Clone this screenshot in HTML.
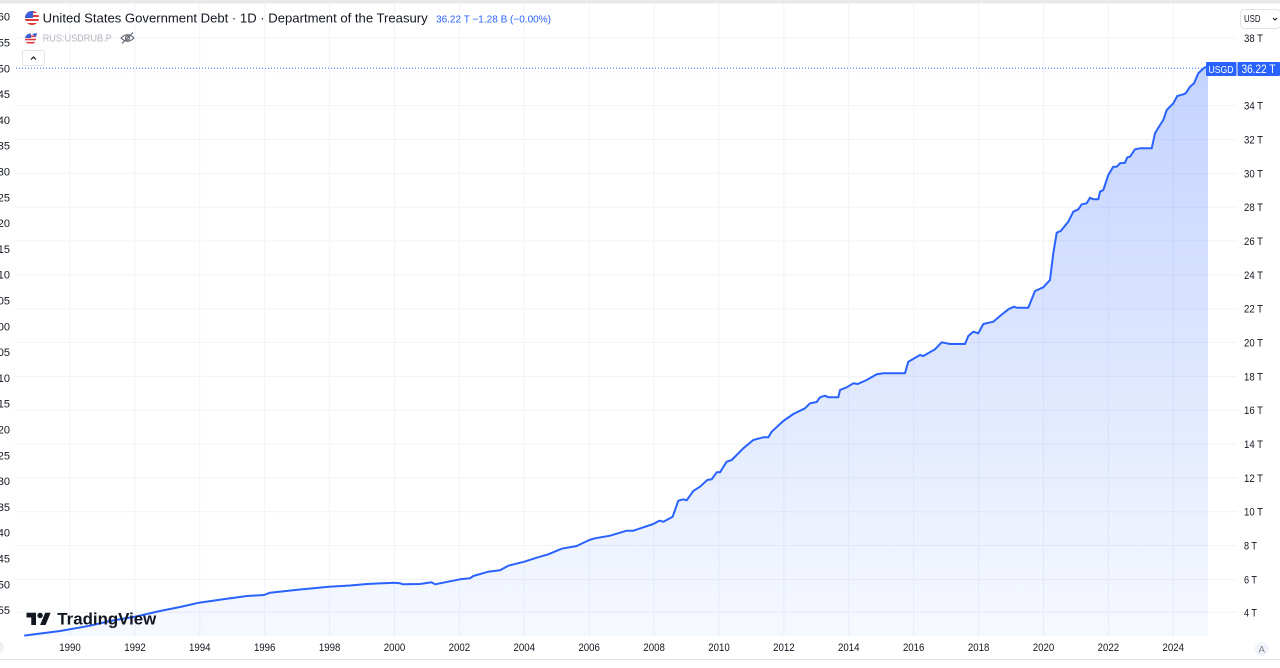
<!DOCTYPE html>
<html>
<head>
<meta charset="utf-8">
<style>
html,body{margin:0;padding:0;background:#fff;}
body{width:1280px;height:668px;overflow:hidden;}
svg{display:block;font-family:"Liberation Sans",Arial,sans-serif;}
</style>
</head>
<body>
<svg width="1280" height="668" viewBox="0 0 1280 668" xmlns="http://www.w3.org/2000/svg">
<defs>
<linearGradient id="fillg" x1="0" y1="67" x2="0" y2="636" gradientUnits="userSpaceOnUse">
<stop offset="0" stop-color="#2962ff" stop-opacity="0.28"/>
<stop offset="1" stop-color="#2962ff" stop-opacity="0.04"/>
</linearGradient>
<clipPath id="c1"><circle cx="32" cy="18" r="7"/></clipPath>
<clipPath id="c2"><circle cx="30.5" cy="39" r="5.5"/></clipPath>
</defs>
<rect x="0" y="0" width="1280" height="668" fill="#fff"/>
<rect x="0" y="0" width="1280" height="3.5" fill="#e8e9eb"/>

<!-- vertical grid -->
<g stroke="#f0f3fa" stroke-width="1">
<line x1="70" y1="4" x2="70" y2="636"/>
<line x1="135" y1="4" x2="135" y2="636"/>
<line x1="199.8" y1="4" x2="199.8" y2="636"/>
<line x1="264.7" y1="4" x2="264.7" y2="636"/>
<line x1="329.6" y1="4" x2="329.6" y2="636"/>
<line x1="394.5" y1="4" x2="394.5" y2="636"/>
<line x1="459.4" y1="4" x2="459.4" y2="636"/>
<line x1="524.3" y1="4" x2="524.3" y2="636"/>
<line x1="589.2" y1="4" x2="589.2" y2="636"/>
<line x1="654.1" y1="4" x2="654.1" y2="636"/>
<line x1="719" y1="4" x2="719" y2="636"/>
<line x1="783.9" y1="4" x2="783.9" y2="636"/>
<line x1="848.8" y1="4" x2="848.8" y2="636"/>
<line x1="913.7" y1="4" x2="913.7" y2="636"/>
<line x1="978.6" y1="4" x2="978.6" y2="636"/>
<line x1="1043.5" y1="4" x2="1043.5" y2="636"/>
<line x1="1108.4" y1="4" x2="1108.4" y2="636"/>
<line x1="1173.3" y1="4" x2="1173.3" y2="636"/>
</g>
<!-- horizontal grid -->
<g stroke="#f0f3fa" stroke-width="1">
<line x1="15" y1="38" x2="1237" y2="38"/>
<line x1="15" y1="71.8" x2="1237" y2="71.8"/>
<line x1="15" y1="105.6" x2="1237" y2="105.6"/>
<line x1="15" y1="139.5" x2="1237" y2="139.5"/>
<line x1="15" y1="173.4" x2="1237" y2="173.4"/>
<line x1="15" y1="207.2" x2="1237" y2="207.2"/>
<line x1="15" y1="241" x2="1237" y2="241"/>
<line x1="15" y1="274.9" x2="1237" y2="274.9"/>
<line x1="15" y1="308.7" x2="1237" y2="308.7"/>
<line x1="15" y1="342.5" x2="1237" y2="342.5"/>
<line x1="15" y1="376.4" x2="1237" y2="376.4"/>
<line x1="15" y1="410.2" x2="1237" y2="410.2"/>
<line x1="15" y1="444" x2="1237" y2="444"/>
<line x1="15" y1="477.9" x2="1237" y2="477.9"/>
<line x1="15" y1="511.7" x2="1237" y2="511.7"/>
<line x1="15" y1="545.5" x2="1237" y2="545.5"/>
<line x1="15" y1="579.4" x2="1237" y2="579.4"/>
<line x1="15" y1="612.3" x2="1237" y2="612.3"/>
</g>

<!-- area fill -->
<path fill="url(#fillg)" stroke="none" d="M25,636 L25,635.5 L60,631 L90,625.7 L110,621 L135,616.7 L160,611 L180,607 L199,602.7 L225,599 L247,596 L264,595 L270,592.7 L300,589.5 L329,586.7 L350,585.5 L367,584 L394,582.7 L400,583.3 L403,584.3 L420,584 L431.7,582.3 L435,584.3 L460,579.3 L470,578.3 L473.3,576 L488.3,571.7 L500,570.3 L508.3,565.7 L524.3,561.7 L536.7,557.7 L548.3,554.3 L561.7,548.7 L576.7,546 L589.3,540 L595,538.3 L610,535.7 L626.7,530.7 L633.3,530.7 L653.3,524 L659.3,520.7 L663.3,521.7 L672.7,516.7 L678.3,500.7 L683.3,499.3 L686.7,500.3 L693.3,491 L700,486.7 L707.3,480 L711.7,479.3 L716.7,472.3 L720,472.3 L726.7,461.7 L731.7,460 L743.3,448.3 L753.3,440 L763.3,437.3 L768.3,437.3 L771.7,431.7 L783.3,421 L793.3,414 L805,408.3 L810,403.3 L816.7,402 L820,397.3 L825,395.7 L828.3,397.3 L838.3,397.3 L840,390 L846.7,387.3 L853.3,383.3 L857.7,384 L866.7,380 L876.7,374.3 L883.3,373.3 L905,373.3 L908.3,361.7 L920,355 L923.3,356 L935,349.3 L941.7,342.3 L950,344 L965,344 L968.3,336 L973.3,331.7 L978.3,333.3 L983.3,324 L993.3,321.7 L1000,316 L1008.3,309.3 L1014,306.7 L1016.7,307.7 L1028.3,307.7 L1035,291 L1043.3,287.3 L1050,280 L1053.3,253.3 L1056.7,232.7 L1060.7,231 L1068.3,221.7 L1073.3,211.7 L1078.3,209.3 L1081.7,204.3 L1086.7,203.3 L1090,197.7 L1093.3,199.3 L1098.3,199.3 L1100,191.7 L1103.3,190 L1108.3,175 L1113.3,166.7 L1116.7,166.7 L1120,163.3 L1125,162.7 L1127.3,157.3 L1130,156.7 L1135,149.3 L1140,148.3 L1151.7,148.3 L1155,133.3 L1160,125 L1163.3,120 L1166.7,110 L1173.3,103.3 L1177.3,96 L1183.3,94.3 L1185.7,93.3 L1190,86.7 L1194,83.3 L1198.3,73.3 L1201.7,70 L1205,67.3 L1208,67.3 L1208,636 Z"/>

<!-- dotted price line -->
<line x1="16" y1="68.3" x2="1207" y2="68.3" stroke="#2962ff" stroke-width="1" stroke-dasharray="1,2" opacity="0.9"/>

<!-- series line -->
<polyline fill="none" stroke="#2962ff" stroke-width="2" stroke-linejoin="round" stroke-linecap="round" points="25,635.5 60,631 90,625.7 110,621 135,616.7 160,611 180,607 199,602.7 225,599 247,596 264,595 270,592.7 300,589.5 329,586.7 350,585.5 367,584 394,582.7 400,583.3 403,584.3 420,584 431.7,582.3 435,584.3 460,579.3 470,578.3 473.3,576 488.3,571.7 500,570.3 508.3,565.7 524.3,561.7 536.7,557.7 548.3,554.3 561.7,548.7 576.7,546 589.3,540 595,538.3 610,535.7 626.7,530.7 633.3,530.7 653.3,524 659.3,520.7 663.3,521.7 672.7,516.7 678.3,500.7 683.3,499.3 686.7,500.3 693.3,491 700,486.7 707.3,480 711.7,479.3 716.7,472.3 720,472.3 726.7,461.7 731.7,460 743.3,448.3 753.3,440 763.3,437.3 768.3,437.3 771.7,431.7 783.3,421 793.3,414 805,408.3 810,403.3 816.7,402 820,397.3 825,395.7 828.3,397.3 838.3,397.3 840,390 846.7,387.3 853.3,383.3 857.7,384 866.7,380 876.7,374.3 883.3,373.3 905,373.3 908.3,361.7 920,355 923.3,356 935,349.3 941.7,342.3 950,344 965,344 968.3,336 973.3,331.7 978.3,333.3 983.3,324 993.3,321.7 1000,316 1008.3,309.3 1014,306.7 1016.7,307.7 1028.3,307.7 1035,291 1043.3,287.3 1050,280 1053.3,253.3 1056.7,232.7 1060.7,231 1068.3,221.7 1073.3,211.7 1078.3,209.3 1081.7,204.3 1086.7,203.3 1090,197.7 1093.3,199.3 1098.3,199.3 1100,191.7 1103.3,190 1108.3,175 1113.3,166.7 1116.7,166.7 1120,163.3 1125,162.7 1127.3,157.3 1130,156.7 1135,149.3 1140,148.3 1151.7,148.3 1155,133.3 1160,125 1163.3,120 1166.7,110 1173.3,103.3 1177.3,96 1183.3,94.3 1185.7,93.3 1190,86.7 1194,83.3 1198.3,73.3 1201.7,70 1205,67.3 1207.5,67.3"/>

<!-- left cut-off scale labels -->
<g font-size="11" fill="#131722" text-anchor="end">
<text x="10" y="20.7">60</text>
<text x="10" y="46.5">55</text>
<text x="10" y="72.3">50</text>
<text x="10" y="98.1">45</text>
<text x="10" y="123.9">40</text>
<text x="10" y="149.7">35</text>
<text x="10" y="175.5">30</text>
<text x="10" y="201.3">25</text>
<text x="10" y="227.1">20</text>
<text x="10" y="252.9">15</text>
<text x="10" y="278.7">10</text>
<text x="10" y="304.5">05</text>
<text x="10" y="330.3">00</text>
<text x="10" y="356.1">05</text>
<text x="10" y="381.9">10</text>
<text x="10" y="407.7">15</text>
<text x="10" y="433.5">20</text>
<text x="10" y="459.3">25</text>
<text x="10" y="485.1">30</text>
<text x="10" y="510.9">35</text>
<text x="10" y="536.7">40</text>
<text x="10" y="562.5">45</text>
<text x="10" y="588.3">50</text>
<text x="10" y="614.1">55</text>
</g>

<!-- right scale labels -->
<g font-size="11" fill="#131722">
<text x="1244" y="42" textLength="19" lengthAdjust="spacingAndGlyphs">38 T</text>
<text x="1244" y="109.6" textLength="19" lengthAdjust="spacingAndGlyphs">34 T</text>
<text x="1244" y="143.5" textLength="19" lengthAdjust="spacingAndGlyphs">32 T</text>
<text x="1244" y="177.4" textLength="19" lengthAdjust="spacingAndGlyphs">30 T</text>
<text x="1244" y="211.2" textLength="19" lengthAdjust="spacingAndGlyphs">28 T</text>
<text x="1244" y="245" textLength="19" lengthAdjust="spacingAndGlyphs">26 T</text>
<text x="1244" y="278.9" textLength="19" lengthAdjust="spacingAndGlyphs">24 T</text>
<text x="1244" y="312.7" textLength="19" lengthAdjust="spacingAndGlyphs">22 T</text>
<text x="1244" y="346.5" textLength="19" lengthAdjust="spacingAndGlyphs">20 T</text>
<text x="1244" y="380.4" textLength="19" lengthAdjust="spacingAndGlyphs">18 T</text>
<text x="1244" y="414.2" textLength="19" lengthAdjust="spacingAndGlyphs">16 T</text>
<text x="1244" y="448" textLength="19" lengthAdjust="spacingAndGlyphs">14 T</text>
<text x="1244" y="481.9" textLength="19" lengthAdjust="spacingAndGlyphs">12 T</text>
<text x="1244" y="515.7" textLength="19" lengthAdjust="spacingAndGlyphs">10 T</text>
<text x="1244" y="549.5" textLength="13" lengthAdjust="spacingAndGlyphs">8 T</text>
<text x="1244" y="583.4" textLength="13" lengthAdjust="spacingAndGlyphs">6 T</text>
<text x="1244" y="616.3" textLength="13" lengthAdjust="spacingAndGlyphs">4 T</text>
</g>

<!-- price badges -->
<rect x="1206" y="62" width="30.5" height="14" fill="#2962ff" rx="1"/>
<rect x="1237.5" y="62" width="42.5" height="14" fill="#2962ff" rx="1"/>
<text x="1221" y="72.8" font-size="10.5" fill="#fff" text-anchor="middle" textLength="25" lengthAdjust="spacingAndGlyphs">USGD</text>
<text x="1258.5" y="73" font-size="11.5" fill="#fff" text-anchor="middle" textLength="34" lengthAdjust="spacingAndGlyphs">36.22 T</text>

<!-- USD button -->
<rect x="1240.5" y="9.5" width="40" height="19" rx="4" fill="#fff" stroke="#e0e3eb"/>
<text x="1244" y="22" font-size="10.5" fill="#131722" textLength="16.5" lengthAdjust="spacingAndGlyphs">USD</text>
<path d="M1273,18 l2,2 l2,-2" fill="none" stroke="#131722" stroke-width="1"/>

<!-- time axis labels -->
<g font-size="11" fill="#131722" text-anchor="middle">
<text x="70" y="651" textLength="21.5" lengthAdjust="spacingAndGlyphs">1990</text>
<text x="135" y="651" textLength="21.5" lengthAdjust="spacingAndGlyphs">1992</text>
<text x="199.8" y="651" textLength="21.5" lengthAdjust="spacingAndGlyphs">1994</text>
<text x="264.7" y="651" textLength="21.5" lengthAdjust="spacingAndGlyphs">1996</text>
<text x="329.6" y="651" textLength="21.5" lengthAdjust="spacingAndGlyphs">1998</text>
<text x="394.5" y="651" textLength="21.5" lengthAdjust="spacingAndGlyphs">2000</text>
<text x="459.4" y="651" textLength="21.5" lengthAdjust="spacingAndGlyphs">2002</text>
<text x="524.3" y="651" textLength="21.5" lengthAdjust="spacingAndGlyphs">2004</text>
<text x="589.2" y="651" textLength="21.5" lengthAdjust="spacingAndGlyphs">2006</text>
<text x="654.1" y="651" textLength="21.5" lengthAdjust="spacingAndGlyphs">2008</text>
<text x="719" y="651" textLength="21.5" lengthAdjust="spacingAndGlyphs">2010</text>
<text x="783.9" y="651" textLength="21.5" lengthAdjust="spacingAndGlyphs">2012</text>
<text x="848.8" y="651" textLength="21.5" lengthAdjust="spacingAndGlyphs">2014</text>
<text x="913.7" y="651" textLength="21.5" lengthAdjust="spacingAndGlyphs">2016</text>
<text x="978.6" y="651" textLength="21.5" lengthAdjust="spacingAndGlyphs">2018</text>
<text x="1043.5" y="651" textLength="21.5" lengthAdjust="spacingAndGlyphs">2020</text>
<text x="1108.4" y="651" textLength="21.5" lengthAdjust="spacingAndGlyphs">2022</text>
<text x="1173.3" y="651" textLength="21.5" lengthAdjust="spacingAndGlyphs">2024</text>
</g>

<!-- auto button -->
<circle cx="1261.7" cy="649" r="7" fill="#f0f3fa"/>
<text x="1261.7" y="652.5" font-size="9.5" fill="#787b86" text-anchor="middle">A</text>
<!-- bottom left partial circle -->
<circle cx="-2" cy="647" r="6" fill="#f0f1f3"/>

<!-- bottom separator -->
<line x1="0" y1="659.5" x2="1280" y2="659.5" stroke="#e0e3eb" stroke-width="1"/>

<!-- header: flag icon -->
<g clip-path="url(#c1)">
<rect x="25" y="11" width="14" height="14" fill="#fff"/>
<rect x="25" y="11" width="14" height="2" fill="#e0393e"/>
<rect x="25" y="15" width="14" height="2" fill="#e0393e"/>
<rect x="25" y="19" width="14" height="2" fill="#e0393e"/>
<rect x="25" y="23" width="14" height="2" fill="#e0393e"/>
<rect x="25" y="11" width="8" height="7" fill="#3c5ed6"/>
</g>
<text x="42.7" y="22.7" font-size="13" fill="#131722" textLength="385" lengthAdjust="spacingAndGlyphs">United States Government Debt · 1D · Department of the Treasury</text>
<text x="436" y="22.5" font-size="10.5" fill="#2962ff" textLength="115" lengthAdjust="spacingAndGlyphs">36.22 T  −1.28 B (−0.00%)</text>

<!-- second row -->
<g clip-path="url(#c2)">
<rect x="25" y="33" width="12" height="12" fill="#fff"/>
<rect x="25" y="35.5" width="12" height="1.6" fill="#e0393e"/>
<rect x="25" y="38.7" width="12" height="1.6" fill="#e0393e"/>
<rect x="25" y="41.9" width="12" height="1.6" fill="#e0393e"/>
<rect x="25" y="33" width="6" height="5" fill="#3c5ed6"/>
</g>
<path d="M32,34 l5,-1 l-1,4 z" fill="#3c5ed6"/>
<text x="42.7" y="41.7" font-size="10.5" fill="#b2b5be" textLength="69" lengthAdjust="spacingAndGlyphs">RUS:USDRUB.P</text>
<!-- eye crossed -->
<g fill="none" stroke="#6a6d78" stroke-width="1.2">
<path d="M121,38 q6.5,-6.5 13,0 q-6.5,6.5 -13,0 z"/>
<circle cx="127.5" cy="38" r="2"/>
<line x1="122" y1="43.5" x2="133" y2="32.5"/>
</g>

<!-- collapse button -->
<rect x="22.5" y="50.5" width="22" height="15" rx="2.5" fill="#fff" stroke="#e0e3eb"/>
<path d="M31,59.5 l2.5,-2.5 l2.5,2.5" fill="none" stroke="#131722" stroke-width="1.2"/>

<!-- TradingView logo -->
<g transform="translate(26.5,610) scale(0.68)" fill="#131722">
<path d="M14 22H7V11H0V4h14v18zM28 22h-8l7.5-18h8L28 22z"/>
<circle cx="20" cy="8" r="4"/>
</g>
<text x="57.3" y="624.3" font-size="17" font-weight="bold" fill="#131722" textLength="99" lengthAdjust="spacingAndGlyphs">TradingView</text>
</svg>
</body>
</html>
